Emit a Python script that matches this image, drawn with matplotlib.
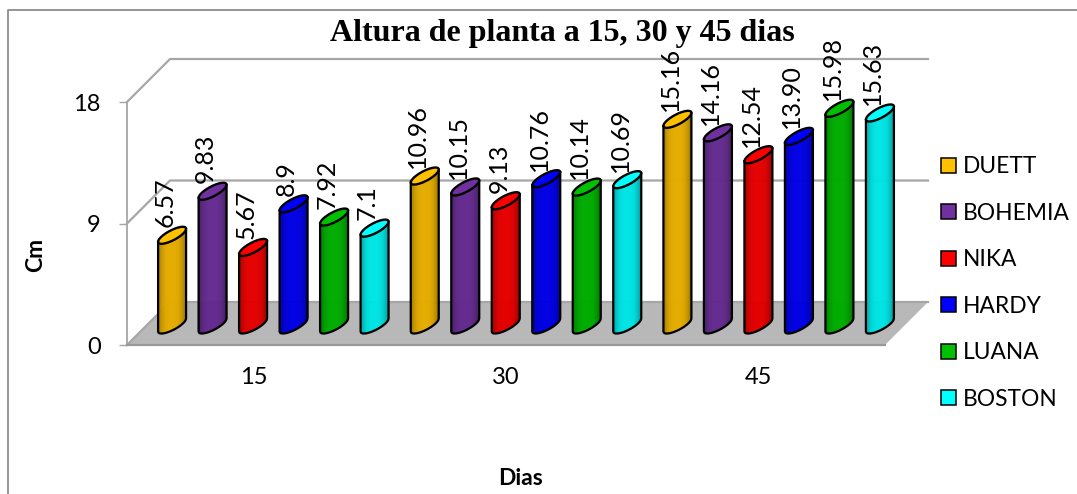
# Altura de planta - cylinder chart in the old Excel 3D look

import numpy as np
import matplotlib
matplotlib.use("Agg")
import matplotlib.pyplot as plt
from matplotlib.collections import PolyCollection
from matplotlib.colors import to_rgb
from matplotlib.lines import Line2D
from matplotlib.patches import Patch, Polygon
from matplotlib.transforms import IdentityTransform

plt.rcParams["font.family"] = ["Lato", "DejaVu Sans"]

# Data
days = ["15", "30", "45"]
varieties = ["DUETT", "BOHEMIA", "NIKA", "HARDY", "LUANA", "BOSTON"]
colors = ["#FFC000", "#7030A0", "#FF0000", "#0000FF", "#00C000", "#00FFFF"]
duett = [6.57, 10.96, 15.16]
bohemia = [9.83, 10.15, 14.16]
nika = [5.67, 9.13, 12.54]
hardy = [8.9, 10.76, 13.90]
luana = [7.92, 10.14, 15.98]
boston = [7.1, 10.69, 15.63]
series = [duett, bohemia, nika, hardy, luana, boston]
labels = [
    ["6.57", "10.96", "15.16"],
    ["9.83", "10.15", "14.16"],
    ["5.67", "9.13", "12.54"],
    ["8.9", "10.76", "13.90"],
    ["7.92", "10.14", "15.98"],
    ["7.1", "10.69", "15.63"],
]
y_ticks = [0, 9, 18]

W, H = 1077, 494
GRAY = "#A6A6A6"
DEPTH_X, DEPTH_Y = 43, 43   # how far the back wall sits behind the front plane
MID_X, MID_Y = 20, 20       # cylinders stand about half way back
LID_LIFT = 1                # tops sit a bit higher than the front plane scale gives
RX, SLOPE, RY = 14, 6.5, 5.5  # tilted ellipse of the cylinder ends


def px(x, y):
    # picture pixels (y down) to display coordinates
    return x, H - y


fig = plt.figure(figsize=(W / 100, H / 100), dpi=100)
ax = fig.add_axes([127 / W, 1 - 345 / H, (885 - 127) / W, (345 - 102) / H])
ax.set_xlim(-0.5, 2.5)
ax.set_ylim(0, 18)
ax.patch.set_visible(False)
for side in ["top", "right"]:
    ax.spines[side].set_visible(False)
ax.spines["left"].set_color(GRAY)
ax.spines["left"].set_linewidth(1.3)
ax.spines["bottom"].set_color("#999999")
ax.spines["bottom"].set_linewidth(1.6)
ax.set_yticks(y_ticks)
ax.set_xticks(range(len(days)), days)
ax.tick_params(axis="y", length=6, width=1, color=GRAY, labelsize=17, pad=13)
ax.tick_params(axis="x", length=0, labelsize=17, pad=16)

ident = IdentityTransform()


def fig_line(xs, ys, color=GRAY, lw=1.6, z=1):
    pts = [px(x, y) for x, y in zip(xs, ys)]
    ax.add_line(Line2D([p[0] for p in pts], [p[1] for p in pts], color=color, lw=lw,
                       transform=ident, clip_on=False, zorder=z))


# chart frame, only left and top show up
fig_line([8, 8, 1077], [494, 10, 10], color="#8C8C8C", lw=1.3)

# floor
x0, y0 = ax.transData.transform((-0.5, 0))
x1, _ = ax.transData.transform((2.5, 0))
floor = [(x0, y0), (x1, y0), (x1 + DEPTH_X, y0 + DEPTH_Y), (x0 + DEPTH_X, y0 + DEPTH_Y)]
ax.add_patch(Polygon(floor, closed=True, facecolor="#B8B8B8", edgecolor="none",
                     transform=ident, clip_on=False, zorder=1))

# walls: gridlines on the back plus the diagonal on the side
for tick in y_ticks:
    xt, yt = ax.transData.transform((-0.5, tick))
    ax.add_line(Line2D([xt, xt + DEPTH_X, x1 + DEPTH_X],
                       [yt, yt + DEPTH_Y, yt + DEPTH_Y], color=GRAY, lw=1.6,
                       transform=ident, clip_on=False, zorder=1.5))


def cylinder(cx, base_y, top_y, color, z):
    xs = np.linspace(-RX, RX, 57)
    u = xs / RX
    low = SLOPE * u - RY * np.sqrt(1 - u ** 2)
    up = SLOPE * u + RY * np.sqrt(1 - u ** 2)
    rgb = np.array(to_rgb(color))

    # body made of thin strips so the sides go darker
    strips = []
    shades = []
    for i in range(len(xs) - 1):
        strips.append([(cx + xs[i], base_y + low[i]), (cx + xs[i + 1], base_y + low[i + 1]),
                       (cx + xs[i + 1], top_y + SLOPE * u[i + 1]), (cx + xs[i], top_y + SLOPE * u[i])])
        mid = (u[i] + u[i + 1]) / 2
        shades.append(rgb * (0.9 - 0.32 * abs(mid) ** 3))
    ax.add_collection(PolyCollection(strips, facecolors=shades, edgecolors=shades, linewidths=0.3,
                                     transform=ident, clip_on=False, zorder=z), autolim=False)

    # outline of the body
    body = [(cx - RX, top_y - SLOPE)] + [(cx + a, base_y + b) for a, b in zip(xs, low)] + [(cx + RX, top_y + SLOPE)]
    ax.add_line(Line2D([p[0] for p in body], [p[1] for p in body], color="black", lw=1.6,
                       transform=ident, clip_on=False, zorder=z + 0.1))

    # lid
    lid = [(cx + a, top_y + b) for a, b in zip(xs, up)] + [(cx + a, top_y + b) for a, b in zip(xs[::-1], low[::-1])]
    ax.add_patch(Polygon(lid, closed=True, facecolor=color, edgecolor="black", lw=1.7,
                         transform=ident, clip_on=False, zorder=z + 0.2))


bar_step = 40.5 / ((885 - 127) / 3)
for g in range(len(days)):
    for s, values in enumerate(series):
        pos = g + (s - 2.5) * bar_step
        bx, by = ax.transData.transform((pos, 0))
        _, ty = ax.transData.transform((pos, values[g]))
        cx = bx + MID_X
        top = ty + MID_Y + LID_LIFT
        cylinder(cx, by + MID_Y, top, colors[s], 3 + g * 6 + s)
        ax.text(cx - 7, top + 8, labels[s][g], rotation=90, ha="center", va="bottom",
                fontsize=18, transform=ident, clip_on=False, zorder=40, color="black")

fig.text(562 / W, 1 - 33 / H, "Altura de planta a 15, 30 y 45 dias", ha="center", va="center",
         family="Liberation Serif", fontweight="bold", fontsize=23)
fig.text(36 / W, 1 - 255 / H, "Cm", rotation=90, ha="center", va="center", fontweight="bold", fontsize=16.5)
fig.text(520 / W, 1 - 478 / H, "Dias", ha="center", va="center", fontweight="bold", fontsize=16.5)

handles = [Patch(facecolor=c, edgecolor="black", lw=1.1) for c in colors]
fig.legend(handles, varieties, loc="center left", bbox_to_anchor=(941 / W, 1 - 283 / H), frameon=False,
           fontsize=16.4, handlelength=0.65, handleheight=0.65, handletextpad=0.3, labelspacing=1.12,
           borderpad=0, borderaxespad=0)

fig.savefig("out.png", dpi=100)
